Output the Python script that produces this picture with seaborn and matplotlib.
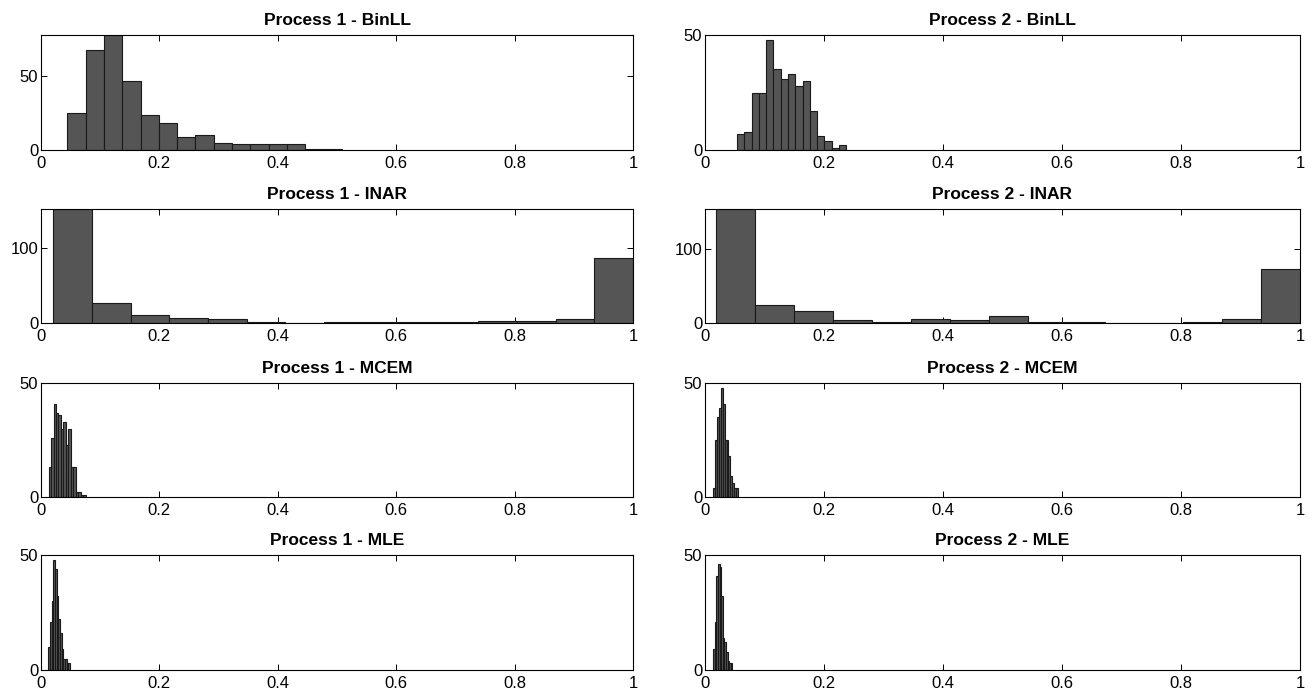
import numpy as np
import pandas as pd
import matplotlib
matplotlib.use("Agg")
import matplotlib.pyplot as plt
import seaborn as sns

sns.set_style("ticks")
plt.rcParams["font.family"] = ["Liberation Sans", "DejaVu Sans"]
plt.rcParams["text.color"] = "black"
plt.rcParams["xtick.color"] = "black"
plt.rcParams["ytick.color"] = "black"

# histogram counts, with bin range per panel
p1_binll_counts = [25, 68, 78, 47, 24, 18, 9, 10, 5, 4, 4, 4, 4, 1, 1]
p1_binll_range = [0.0444, 0.5083]
p2_binll_counts = [7, 8, 25, 25, 48, 35, 31, 33, 28, 30, 17, 6, 4, 1, 2]
p2_binll_range = [0.0539, 0.2372]

p1_inar_counts = [151, 26, 10, 6, 5, 1, 0.4, 1, 1, 1, 1, 3, 2, 5, 86]
p1_inar_range = [0.021, 1.0]
p2_inar_counts = [155, 24, 16, 4, 2, 5, 4, 9, 2, 1, 0.4, 0.4, 1, 5, 73]
p2_inar_range = [0.019, 1.0]

p1_mcem_counts = [13, 26, 41, 37, 36, 30, 33, 23, 30, 13, 13, 2, 2, 1, 1]
p1_mcem_range = [0.0128, 0.0752]
p2_mcem_counts = [4, 25, 35, 39, 48, 41, 25, 25, 18, 9, 6, 4, 4]
p2_mcem_range = [0.0139, 0.0552]

p1_mle_counts = [10, 21, 30, 48, 44, 32, 22, 16, 9, 5, 5, 3, 3]
p1_mle_range = [0.0123, 0.049]
p2_mle_counts = [9, 21, 41, 46, 45, 32, 14, 12, 8, 4, 3, 3]
p2_mle_range = [0.0139, 0.0462]

titles = [
    "Process 1 - BinLL", "Process 2 - BinLL",
    "Process 1 - INAR", "Process 2 - INAR",
    "Process 1 - MCEM", "Process 2 - MCEM",
    "Process 1 - MLE", "Process 2 - MLE",
]
panels = [
    (p1_binll_counts, p1_binll_range), (p2_binll_counts, p2_binll_range),
    (p1_inar_counts, p1_inar_range), (p2_inar_counts, p2_inar_range),
    (p1_mcem_counts, p1_mcem_range), (p2_mcem_counts, p2_mcem_range),
    (p1_mle_counts, p1_mle_range), (p2_mle_counts, p2_mle_range),
]
y_tops = [78, 50, 151, 154, 50, 50, 50, 50]
y_ticks = [[0, 50], [0, 50], [0, 100], [0, 100], [0, 50], [0, 50], [0, 50], [0, 50]]
x_ticks = [0, 0.2, 0.4, 0.6, 0.8, 1]
x_labels = ["0", "0.2", "0.4", "0.6", "0.8", "1"]

fig = plt.figure(figsize=(13.14, 6.93), dpi=100)

W, H = 1314, 693
cols = [(41, 633), (705, 1300)]
rows = [(35, 150), (209, 323), (383, 497), (555, 670)]

for i, ((counts, rng), title) in enumerate(zip(panels, titles)):
    r, c = divmod(i, 2)
    x0, x1 = cols[c]
    top, bot = rows[r]
    ax = fig.add_axes([x0 / W, 1 - bot / H, (x1 - x0) / W, (bot - top) / H])

    # bins given as a list: seaborn compares bins == "auto" when weights are used
    edges = np.linspace(rng[0], rng[1], len(counts) + 1)
    df = pd.DataFrame({"x": (edges[:-1] + edges[1:]) / 2, "n": counts})
    sns.histplot(data=df, x="x", weights="n", bins=edges.tolist(), ax=ax,
                 color="#555555", edgecolor="#1a1a1a", linewidth=0.8, alpha=1)

    ax.set_xlim(0, 1)
    ax.set_ylim(0, y_tops[i])
    ax.set_xticks(x_ticks)
    ax.set_xticklabels(x_labels)
    ax.set_yticks(y_ticks[i])
    ax.set_xlabel("")
    ax.set_ylabel("")
    ax.tick_params(direction="in", top=True, right=True, length=4,
                   width=0.7, labelsize=12, pad=2, colors="black")
    ax.tick_params(axis="x", pad=4)
    for s in ax.spines.values():
        s.set_visible(True)
        s.set_linewidth(0.8)
        s.set_color("black")
    ax.set_title(title, fontsize=12.5, fontweight="bold", pad=7)

fig.savefig("out.png", dpi=100)
